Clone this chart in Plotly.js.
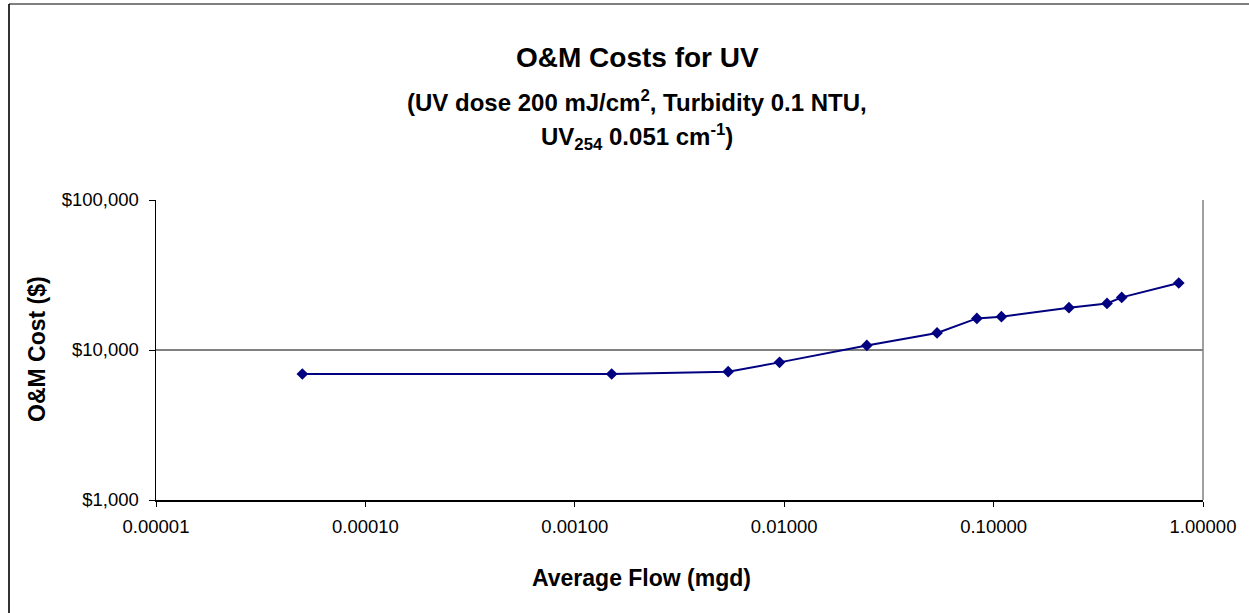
<!DOCTYPE html>
<html>
<head>
<meta charset="utf-8">
<script src="https://cdn.plot.ly/plotly-3.0.1.min.js"></script>
<style>
html,body{margin:0;padding:0;background:#fff;}
#chart{width:1249px;height:613px;}
</style>
</head>
<body>
<div id="chart"></div>
<script>
// Data
const flowMgd = [0.00005, 0.0015, 0.0054, 0.0095, 0.0248, 0.0537, 0.0832, 0.109, 0.229, 0.348, 0.409, 0.766];
const omCost = [6920, 6920, 7170, 8270, 10730, 12990, 16240, 16670, 19140, 20450, 22420, 27970];

const xTickVals = [0.00001, 0.0001, 0.001, 0.01, 0.1, 1];
const xTickText = ["0.00001", "0.00010", "0.00100", "0.01000", "0.10000", "1.00000"];
const yTickVals = [1000, 10000, 100000];
const yTickText = ["$1,000", "$10,000", "$100,000"];

const titleText = "O&M Costs for UV";
const subtitle1 = "(UV dose 200 mJ/cm<sup>2</sup>, Turbidity 0.1 NTU,";
const subtitle2 = "UV<sub>254</sub> 0.051 cm<sup>-1</sup>)";
const xTitle = "Average Flow (mgd)";
const yTitle = "O&M Cost ($)";

const FONT = "Liberation Sans, Arial, sans-serif";

// plot area in pixels
const PL = 156, PR = 1203, PT = 200, PB = 500;
const PW = PR - PL, PH = PB - PT;
const px = v => (v - PL) / PW;
const py = v => (PB - v) / PH;

const trace = {
  x: flowMgd,
  y: omCost,
  type: "scatter",
  mode: "lines+markers",
  line: {color: "#000080", width: 2},
  marker: {symbol: "diamond", size: 9, color: "#000080"},
  showlegend: false,
  hoverinfo: "x+y"
};

const layout = {
  width: 1249,
  height: 613,
  margin: {l: PL, r: 1249 - PR, t: PT, b: 613 - PB},
  paper_bgcolor: "#ffffff",
  plot_bgcolor: "#ffffff",
  font: {family: FONT, color: "#000000", size: 18.5},
  showlegend: false,
  xaxis: {
    type: "log",
    range: [-5, 0],
    tickvals: xTickVals,
    ticktext: xTickText,
    ticks: "outside",
    ticklen: 5,
    tickcolor: "#000000",
    tickfont: {family: FONT, size: 18.5, color: "#000000"},
    ticklabelstandoff: 4,
    showgrid: false,
    zeroline: false,
    showline: true,
    linecolor: "#000000",
    linewidth: 1.5
  },
  yaxis: {
    type: "log",
    range: [3, 5],
    tickvals: yTickVals,
    ticktext: yTickText,
    ticks: "outside",
    ticklen: 6,
    tickcolor: "#000000",
    tickfont: {family: FONT, size: 18.5, color: "#000000"},
    ticklabelstandoff: 6,
    showgrid: true,
    gridcolor: "#808080",
    gridwidth: 1.5,
    zeroline: false,
    showline: true,
    linecolor: "#000000",
    linewidth: 1.5
  },
  annotations: [
    {text: "<b>" + titleText + "</b>", xref: "paper", yref: "paper", x: px(637), y: py(58),
     xanchor: "center", yanchor: "middle", showarrow: false, font: {family: FONT, size: 28, color: "#000000"}},
    {text: "<b>" + subtitle1 + "</b>", xref: "paper", yref: "paper", x: px(637), y: py(101),
     xanchor: "center", yanchor: "middle", showarrow: false, font: {family: FONT, size: 24, color: "#000000"}},
    {text: "<b>" + subtitle2 + "</b>", xref: "paper", yref: "paper", x: px(637), y: py(137),
     xanchor: "center", yanchor: "middle", showarrow: false, font: {family: FONT, size: 24, color: "#000000"}},
    {text: "<b>" + xTitle + "</b>", xref: "paper", yref: "paper", x: px(641), y: py(578),
     xanchor: "center", yanchor: "middle", showarrow: false, font: {family: FONT, size: 23, color: "#000000"}},
    {text: "<b>" + yTitle + "</b>", xref: "paper", yref: "paper", x: px(37), y: py(349),
     xanchor: "center", yanchor: "middle", textangle: -90, showarrow: false, font: {family: FONT, size: 23, color: "#000000"}}
  ],
  shapes: [
    // plot area right border (gray)
    {type: "line", xref: "paper", yref: "paper", x0: 1, x1: 1, y0: 0, y1: 1, line: {color: "#808080", width: 1.5}},
    // chart frame (left and top edges visible)
    {type: "line", xref: "paper", yref: "paper", x0: px(9), x1: px(9), y0: py(4), y1: py(640), line: {color: "#333333", width: 2}},
    {type: "line", xref: "paper", yref: "paper", x0: px(9), x1: px(1260), y0: py(4), y1: py(4), line: {color: "#000000", width: 1}}
  ]
};

Plotly.newPlot("chart", [trace], layout, {displayModeBar: false, staticPlot: true});
</script>
</body>
</html>
